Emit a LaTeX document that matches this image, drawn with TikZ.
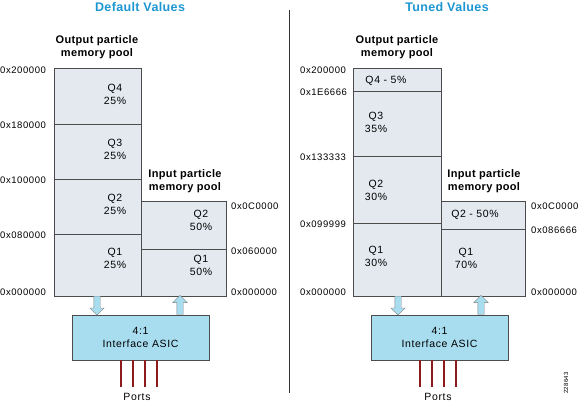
\documentclass[tikz,border=0pt]{standalone}
\usepackage{fontspec}
\setmainfont{Liberation Sans}[LetterSpace=6, BoldFeatures={LetterSpace=3}]
\usetikzlibrary{shapes.arrows}
\definecolor{titleblue}{HTML}{1E96D2}
\definecolor{poolfill}{HTML}{E3E9EF}
\definecolor{asicfill}{HTML}{A8DDF0}
\definecolor{portred}{HTML}{8E1B1B}
\begin{document}
\begin{tikzpicture}[x=1pt, y=-1pt, font=\fontsize{10.5}{13}\selectfont,
    pool/.style={draw=black!70, fill=poolfill, line width=0.7pt},
    asic/.style={draw=black!70, fill=asicfill, line width=0.7pt, minimum width=137pt, minimum height=45pt, align=center, inner sep=0pt},
    flow/.style={single arrow, draw=black!50, fill=asicfill, minimum height=19pt, inner sep=3pt, single arrow head extend=4pt, anchor=tail},
    port/.style={portred, line width=1.6pt},
    title/.style={font=\fontsize{12.5}{14}\selectfont\bfseries, text=titleblue},
    head/.style={font=\fontsize{11}{13}\selectfont\bfseries, align=center},
    addr/.style={anchor=west, inner sep=0pt, font=\fontsize{9.5}{11}\selectfont}]
    \useasboundingbox (0,0) rectangle (579,405);

    % left half: default values
    \node (t_default) [title] at (140, 7) {Default Values};
    \node (h_out1) [head] at (97, 47) {Output particle\\memory pool};
    \node (h_in1) [head] at (185, 181) {Input particle\\memory pool};

    \draw[pool] (54,68) rectangle (141,296);
    \draw[pool] (141,201) rectangle (226,296);
    \draw[pool] (54,124) -- (141,124) (54,179) -- (141,179) (54,234) -- (141,234);
    \draw[pool] (141,249) -- (226,249);
    \coordinate (out1) at (97,296);
    \coordinate (in1) at (180,296);

    \node (q4_1) [align=center] at (115, 94) {Q4\\25\%};
    \node (q3_1) [align=center] at (115, 149) {Q3\\25\%};
    \node (q2_1) [align=center] at (115, 204) {Q2\\25\%};
    \node (q1_1) [align=center] at (115, 258) {Q1\\25\%};
    \node (iq2_1) [align=center] at (201, 220) {Q2\\50\%};
    \node (iq1_1) [align=center] at (201, 265) {Q1\\50\%};

    \node (a1_200) [addr] at (0, 70) {0x200000};
    \node (a1_180) [addr] at (0, 125) {0x180000};
    \node (a1_100) [addr] at (0, 180) {0x100000};
    \node (a1_080) [addr] at (0, 235) {0x080000};
    \node (a1_000) [addr] at (0, 292) {0x000000};
    \node (b1_0c0) [addr] at (231, 206) {0x0C0000};
    \node (b1_060) [addr] at (231, 251) {0x060000};
    \node (b1_000) [addr] at (231, 292) {0x000000};

    \node (asic1) [asic] at (140.5, 337.5) {4:1\\Interface ASIC};
    \node [flow, rotate=-90] at (out1) {};
    \node [flow, rotate=90] at (asic1.north -| in1) {};
    \foreach \dx in {-19.5, -7.5, 4.5, 16.5}
        \draw[port] ([xshift=\dx pt]asic1.south) -- ++(0,27);
    \node (ports1) at (137, 397) {Ports};

    \draw[black!80, line width=0.7pt] (289,10) -- (289,393);

    % right half: tuned values
    \node (t_tuned) [title] at (447, 7) {Tuned Values};
    \node (h_out2) [head] at (397, 47) {Output particle\\memory pool};
    \node (h_in2) [head] at (484, 181) {Input particle\\memory pool};

    \draw[pool] (353,68) rectangle (441,296);
    \draw[pool] (441,201) rectangle (525,296);
    \draw[pool] (353,91) -- (441,91) (353,156) -- (441,156) (353,223) -- (441,223);
    \draw[pool] (441,229) -- (525,229);
    \coordinate (out2) at (398,296);
    \coordinate (in2) at (481,296);

    \node (q4_2) at (386, 81) {Q4 - 5\%};
    \node (q3_2) [align=center] at (376, 122) {Q3\\35\%};
    \node (q2_2) [align=center] at (376, 190) {Q2\\30\%};
    \node (q1_2) [align=center] at (376, 256) {Q1\\30\%};
    \node (iq2_2) at (475, 215) {Q2 - 50\%};
    \node (iq1_2) [align=center] at (466, 258) {Q1\\70\%};

    \node (a2_200) [addr] at (300, 70) {0x200000};
    \node (a2_1e6) [addr] at (300, 92) {0x1E6666};
    \node (a2_133) [addr] at (300, 157) {0x133333};
    \node (a2_099) [addr] at (300, 224) {0x099999};
    \node (a2_000) [addr] at (300, 292) {0x000000};
    \node (b2_0c0) [addr] at (531, 206) {0x0C0000};
    \node (b2_086) [addr] at (531, 230) {0x086666};
    \node (b2_000) [addr] at (531, 292) {0x000000};

    \node (asic2) [asic] at (439.5, 337.5) {4:1\\Interface ASIC};
    \node [flow, rotate=-90] at (out2) {};
    \node [flow, rotate=90] at (asic2.north -| in2) {};
    \foreach \dx in {-19.5, -7.5, 4.5, 16.5}
        \draw[port] ([xshift=\dx pt]asic2.south) -- ++(0,27);
    \node (ports2) at (438, 397) {Ports};

    \node (fig_id) [rotate=90, font=\fontsize{6}{7}\selectfont] at (566, 383) {228643};
\end{tikzpicture}
\end{document}
